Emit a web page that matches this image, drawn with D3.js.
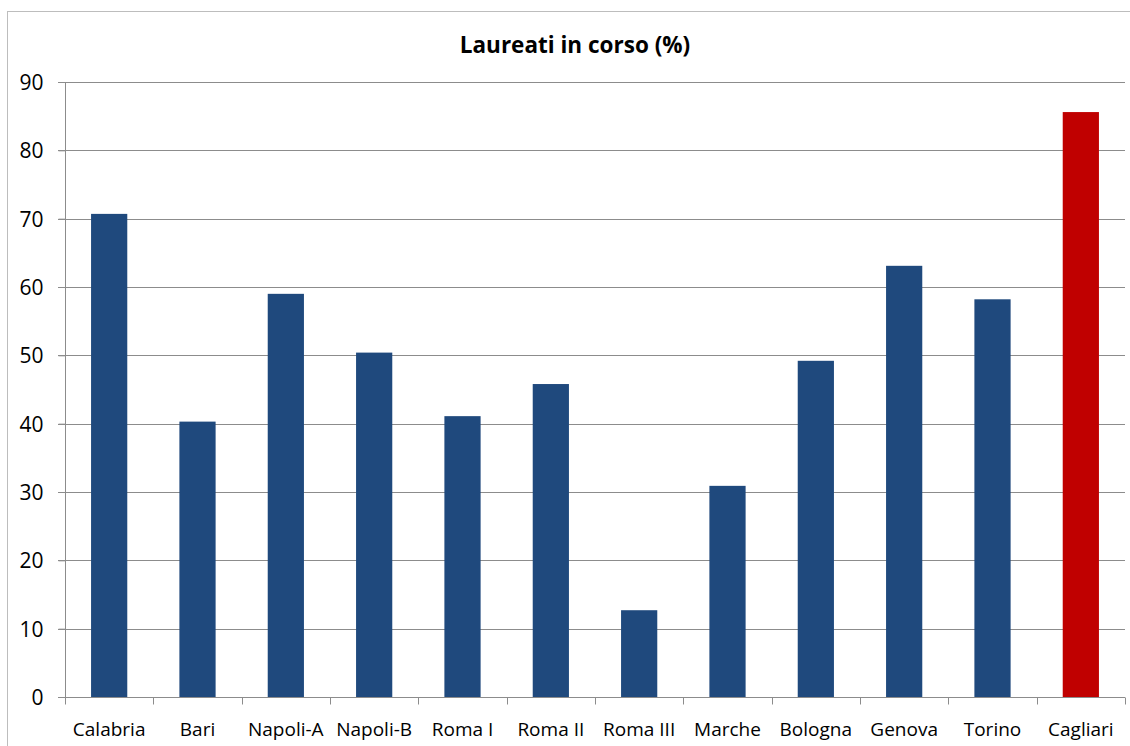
<!DOCTYPE html>
<html>
<head>
<meta charset="utf-8">
<script src="https://cdn.jsdelivr.net/npm/d3@7"></script>
<style>
  body { margin: 0; background: #fff; }
  svg text { font-family: "Open Sans", "Noto Sans", sans-serif; fill: #000; }
</style>
</head>
<body>
<div id="chart"></div>
<script>
// --- DATA ---
const universities = ["Calabria", "Bari", "Napoli-A", "Napoli-B", "Roma I", "Roma II",
                      "Roma III", "Marche", "Bologna", "Genova", "Torino", "Cagliari"];
const percentages = [70.7, 40.3, 59.0, 50.4, 41.1, 45.8, 12.7, 30.9, 49.2, 63.1, 58.2, 85.6];
const highlighted = ["Cagliari"];
const yTicks = [0, 10, 20, 30, 40, 50, 60, 70, 80, 90];

const width = 1130, height = 746;
const margin = {top: 82, right: 5, bottom: 49, left: 65};

const svg = d3.select("#chart").append("svg")
    .attr("width", width)
    .attr("height", height);

// outer chart frame
svg.append("rect")
    .attr("x", 7.5).attr("y", 11.5)
    .attr("width", width).attr("height", height)
    .attr("fill", "none")
    .attr("stroke", "#bdbdbd")
    .attr("stroke-width", 1);

const x = d3.scaleBand()
    .domain(universities)
    .range([margin.left, width - margin.right])
    .paddingInner(0.59)
    .paddingOuter(0.295);

const y = d3.scaleLinear()
    .domain([0, 90])
    .range([height - margin.bottom, margin.top]);

// gridlines
svg.append("g")
    .selectAll("line")
    .data(yTicks.slice(1))
    .enter().append("line")
    .attr("x1", margin.left - 7)
    .attr("x2", width - margin.right)
    .attr("y1", d => Math.round(y(d)) + 0.5)
    .attr("y2", d => Math.round(y(d)) + 0.5)
    .attr("stroke", "#8c8c8c")
    .attr("stroke-width", 1);

// bars
svg.append("g")
    .selectAll("rect")
    .data(universities)
    .enter().append("rect")
    .attr("x", d => x(d))
    .attr("y", (d, i) => y(percentages[i]))
    .attr("width", x.bandwidth())
    .attr("height", (d, i) => y(0) - y(percentages[i]))
    .attr("fill", d => highlighted.includes(d) ? "#c00000" : "#1f497d");

// y axis
const yAxis = svg.append("g")
    .attr("transform", `translate(${margin.left + 0.5},0)`)
    .call(d3.axisLeft(y).tickValues(yTicks).tickSize(7).tickPadding(15).tickFormat(d3.format("d")));
yAxis.select(".domain").attr("stroke", "#8c8c8c").attr("d", `M0,${y(0)}V${y(90)}`);
yAxis.selectAll(".tick line").attr("stroke", "#8c8c8c");
yAxis.selectAll(".tick text").style("font-size", "21px").attr("dy", "0.35em");

// x axis: ticks at category boundaries
const xAxisG = svg.append("g")
    .attr("transform", `translate(0,${Math.round(y(0)) + 0.5})`);
xAxisG.append("line")
    .attr("x1", margin.left - 7).attr("x2", width - margin.right)
    .attr("stroke", "#8c8c8c");
const step = x.step();
const boundaries = universities.map((d, i) => margin.left + i * step).concat([width - margin.right]);
xAxisG.selectAll(".bt")
    .data(boundaries)
    .enter().append("line")
    .attr("x1", d => Math.round(d) + 0.5).attr("x2", d => Math.round(d) + 0.5)
    .attr("y1", 0).attr("y2", 7)
    .attr("stroke", "#8c8c8c");
xAxisG.selectAll("text")
    .data(universities)
    .enter().append("text")
    .attr("x", d => x(d) + x.bandwidth() / 2)
    .attr("y", 38)
    .attr("text-anchor", "middle")
    .style("font-size", "19px")
    .text(d => d);

// title
svg.append("text")
    .attr("x", 575)
    .attr("y", 53)
    .attr("text-anchor", "middle")
    .style("font-size", "22.5px")
    .style("font-weight", "bold")
    .text("Laureati in corso (%)");
</script>
</body>
</html>
